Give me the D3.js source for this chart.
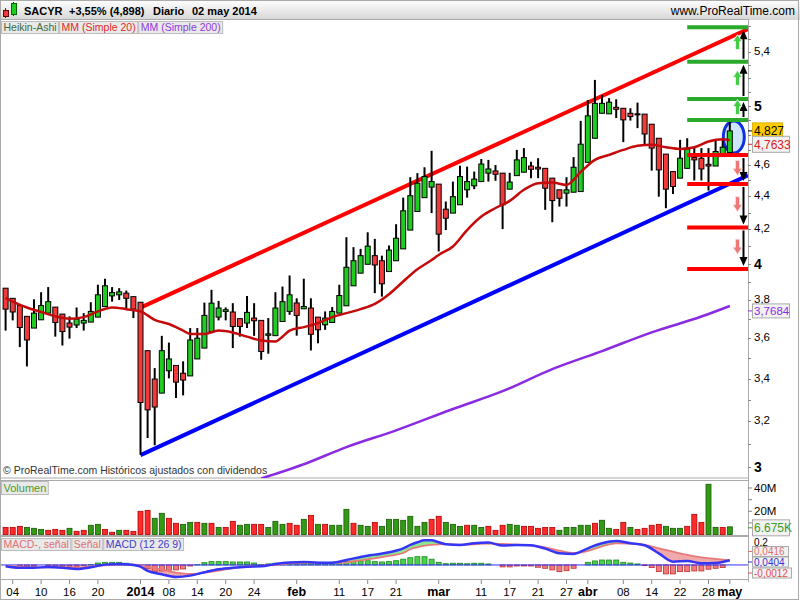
<!DOCTYPE html>
<html>
<head>
<meta charset="utf-8">
<script src="https://cdn.jsdelivr.net/npm/d3@7"></script>
<style>
body { margin: 0; background: #fff; }
svg { display: block; font-family: "Liberation Sans", Arial, sans-serif; }
</style>
</head>
<body>
<script>
// trading days shown on the chart
const dates = [
  "2013-12-03","2013-12-04","2013-12-05","2013-12-06","2013-12-09","2013-12-10","2013-12-11","2013-12-12","2013-12-13","2013-12-16",
  "2013-12-17","2013-12-18","2013-12-19","2013-12-20","2013-12-23","2013-12-24","2013-12-27","2013-12-30","2013-12-31",
  "2014-01-02","2014-01-03","2014-01-06","2014-01-07","2014-01-08","2014-01-09","2014-01-10","2014-01-13","2014-01-14","2014-01-15",
  "2014-01-16","2014-01-17","2014-01-20","2014-01-21","2014-01-22","2014-01-23","2014-01-24","2014-01-27","2014-01-28","2014-01-29",
  "2014-01-30","2014-01-31",
  "2014-02-03","2014-02-04","2014-02-05","2014-02-06","2014-02-07","2014-02-10","2014-02-11","2014-02-12","2014-02-13","2014-02-14",
  "2014-02-17","2014-02-18","2014-02-19","2014-02-20","2014-02-21","2014-02-24","2014-02-25","2014-02-26","2014-02-27","2014-02-28",
  "2014-03-03","2014-03-04","2014-03-05","2014-03-06","2014-03-07","2014-03-10","2014-03-11","2014-03-12","2014-03-13","2014-03-14",
  "2014-03-17","2014-03-18","2014-03-19","2014-03-20","2014-03-21","2014-03-24","2014-03-25","2014-03-26","2014-03-27","2014-03-28",
  "2014-03-31",
  "2014-04-01","2014-04-02","2014-04-03","2014-04-04","2014-04-07","2014-04-08","2014-04-09","2014-04-10","2014-04-11","2014-04-14",
  "2014-04-15","2014-04-16","2014-04-17","2014-04-22","2014-04-23","2014-04-24","2014-04-25","2014-04-28","2014-04-29","2014-04-30",
  "2014-05-02"
];

// Heikin-Ashi candles
const haOpen = [3.864,3.809,3.770,3.713,3.652,3.695,3.730,3.762,3.725,3.678,3.668,3.678,3.683,3.709,3.765,3.822,3.828,3.837,3.818,
  3.788,3.537,3.398,3.331,3.438,3.464,3.426,3.413,3.496,3.550,3.634,3.709,3.739,3.736,3.701,3.678,3.704,3.692,3.615,3.613,3.686,3.739,
  3.784,3.753,3.757,3.709,3.669,3.681,3.730,3.769,3.877,3.947,3.997,4.046,4.017,3.956,4.017,4.085,4.195,4.307,4.392,4.458,
  4.477,4.321,4.297,4.348,4.441,4.466,4.493,4.547,4.561,4.547,4.445,4.531,4.553,4.593,4.585,4.578,4.515,4.441,4.420,4.426,4.430,
  4.617,4.777,4.949,4.945,4.991,4.984,4.949,4.945,4.943,4.873,4.777,4.671,4.557,4.515,4.578,4.648,4.644,4.604,4.593,4.655,
  4.681];
const haHigh = [3.864,3.809,3.770,3.713,3.804,3.842,3.870,3.762,3.725,3.713,3.760,3.730,3.788,3.883,3.916,3.870,3.864,3.851,3.818,
  3.788,3.537,3.451,3.612,3.578,3.464,3.484,3.652,3.652,3.786,3.855,3.795,3.760,3.783,3.701,3.822,3.783,3.692,3.704,3.842,3.873,3.934,
  3.809,3.916,3.809,3.709,3.739,3.762,3.883,4.153,4.095,4.085,4.182,4.143,4.046,4.104,4.230,4.392,4.521,4.547,4.585,4.693,
  4.477,4.368,4.493,4.595,4.589,4.557,4.639,4.633,4.599,4.547,4.549,4.699,4.711,4.621,4.644,4.578,4.515,4.441,4.521,4.651,4.896,
  5.043,5.188,5.079,5.056,5.048,4.984,4.984,5.024,4.943,4.873,4.777,4.671,4.557,4.766,4.777,4.711,4.711,4.711,4.766,4.766,
  4.915];
const haLow = [3.639,3.692,3.555,3.459,3.652,3.695,3.730,3.608,3.563,3.598,3.652,3.639,3.683,3.709,3.765,3.791,3.800,3.757,3.704,
  3.053,3.126,3.094,3.331,3.401,3.308,3.320,3.413,3.496,3.550,3.634,3.692,3.692,3.550,3.608,3.652,3.612,3.492,3.522,3.613,3.686,3.721,
  3.613,3.753,3.538,3.575,3.643,3.681,3.730,3.769,3.877,3.947,3.997,3.837,3.818,3.956,4.017,4.085,4.195,4.307,4.392,4.297,
  4.070,4.195,4.297,4.348,4.392,4.445,4.493,4.493,4.498,4.201,4.445,4.531,4.553,4.515,4.515,4.317,4.242,4.337,4.337,4.426,4.430,
  4.617,4.777,4.949,4.945,4.916,4.751,4.898,4.846,4.733,4.563,4.398,4.327,4.415,4.515,4.578,4.500,4.500,4.436,4.593,4.655,
  4.681];
const haClose = [3.751,3.736,3.655,3.591,3.730,3.770,3.791,3.681,3.634,3.657,3.699,3.692,3.739,3.828,3.877,3.840,3.844,3.809,3.751,
  3.287,3.253,3.266,3.537,3.496,3.383,3.393,3.591,3.600,3.718,3.783,3.757,3.748,3.660,3.660,3.734,3.690,3.533,3.622,3.757,3.791,3.828,
  3.718,3.765,3.620,3.643,3.704,3.739,3.824,3.980,4.017,4.046,4.101,3.993,3.888,4.078,4.147,4.311,4.404,4.483,4.525,4.493,
  4.171,4.266,4.398,4.525,4.493,4.509,4.606,4.574,4.540,4.348,4.490,4.633,4.648,4.572,4.574,4.451,4.374,4.388,4.441,4.585,4.737,
  4.931,5.019,5.019,5.027,4.977,4.903,4.926,4.938,4.806,4.711,4.568,4.445,4.462,4.644,4.711,4.633,4.574,4.593,4.688,4.717,
  4.827];

// moving averages, sampled by trading-day number
const mm20Day = [0,1,3,5,7,9,11,13,15,17,19,21,23,25,26,28,30,32,34,36,38,39,40,42,44,46,48,50,52,54,56,58,60,61,63,65,67,69,71,
  73,75,77,79,81,83,85,87,89,91,93,95,97,99,101,102];
const mm20Val = [3.811,3.791,3.760,3.736,3.713,3.701,3.709,3.739,3.760,3.751,3.739,3.695,3.673,3.639,3.622,3.622,3.639,3.629,3.608,
  3.588,3.583,3.608,3.639,3.657,3.678,3.709,3.730,3.751,3.779,3.831,3.901,3.969,4.021,4.050,4.099,4.195,4.276,4.328,4.372,
  4.441,4.483,4.487,4.472,4.555,4.633,4.666,4.699,4.726,4.733,4.717,4.705,4.717,4.755,4.771,4.763];
const mm200Day = [36,42,48,55,63,70,77,84,91,98,102];
const mm200Val = [2.952,3.012,3.086,3.160,3.257,3.340,3.446,3.535,3.630,3.712,3.768];

// channel drawn on the chart: [day, price] anchors
const upperChannel = [[19, 3.759], [102, 5.509]];
const lowerChannel = [[19, 3.051], [102, 4.479]];

// target levels on the right
const greenLevels = [5.589, 5.323, 5.050, 4.902];
const redLevels = [4.665, 4.478, 4.211, 3.970];

// volume in millions, direction of the real close
const volume = [6.2,6.2,7.1,6.2,5.4,4.5,3.7,4.5,3.7,5.4,2.8,3.7,8.0,8.8,4.5,2.0,3.7,3.7,2.8,20.0,20.8,14.0,18.3,14.0,9.7,8.8,
  10.5,10.5,9.7,9.7,6.2,6.2,11.4,8.0,8.8,8.8,8.8,6.2,11.4,8.8,9.7,8.0,13.1,16.5,8.8,8.8,8.0,8.0,21.7,9.7,8.0,7.1,10.5,7.1,13.1,13.1,
  12.3,15.7,7.1,10.5,13.1,15.7,10.5,8.8,7.1,8.0,8.0,6.2,7.1,3.7,8.0,8.8,8.0,7.1,7.1,5.4,6.2,6.2,3.7,6.2,6.2,8.0,8.0,9.7,12.3,
  5.4,4.5,10.5,6.2,4.5,5.4,8.0,8.8,7.1,5.4,5.4,7.1,17.4,10.5,43.2,6.2,6.2,6.675];
const volDir = ["d","d","d","u","u","u","d","d","d","u","d","d","u","u","d","d","u","d","d","d","d","u","u","d","d","u","u","d",
  "u","d","u","d","d","u","u","d","d","u","u","u","d","d","u","d","u","d","u","u","u","d","u","u","d","u","u","u",
  "u","u","u","u","d","d","u","u","u","d","u","u","d","d","d","u","u","d","d","d","d","d","u","u","u","u","u","d","u","u",
  "d","d","u","d","d","d","d","u","u","u","d","d","d","u","u","d","u"];

// MACD (12 26 9)
const macdDay = [0,2,4,6,8,10,12,14,16,18,19,20,22,24,26,28,30,32,34,36,38,40,42,44,46,48,50,52,54,56,57,58,59,60,61,62,64,66,
  68,70,72,74,76,78,80,81,82,84,86,88,90,92,94,96,98,100,101,102];
const macdVal = [-0.0116,-0.0246,-0.0246,-0.0174,-0.0232,-0.0348,-0.0203,0.0029,0.0087,0.0,-0.0145,-0.0522,-0.0812,-0.1043,
  -0.0928,-0.0638,-0.0377,-0.0232,-0.0145,-0.0116,0.0087,0.0217,0.0261,0.0203,0.0203,0.0435,0.0696,0.0899,0.1101,0.1449,0.1739,
  0.1971,0.2145,0.2145,0.1971,0.1797,0.1739,0.1884,0.1942,0.1681,0.1739,0.1710,0.1420,0.1014,0.0957,0.1159,0.1449,0.1884,0.2087,
  0.1884,0.1710,0.1014,0.0290,0.0348,0.0145,0.0174,0.0261,0.0404];
const signalVal = [-0.0058,-0.0145,-0.0203,-0.0203,-0.0203,-0.0217,-0.0116,-0.0029,0.0058,0.0029,-0.0058,-0.0145,-0.0406,-0.0667,
  -0.0783,-0.0667,-0.0493,-0.0290,-0.0116,-0.0058,0.0,0.0130,0.0188,0.0203,0.0174,0.0232,0.0406,0.0580,0.0783,0.1043,0.1362,
  0.1536,0.1681,0.1739,0.1797,0.1826,0.1768,0.1797,0.1855,0.1826,0.1768,0.1681,0.1536,0.1246,0.1043,0.1072,0.1217,0.1623,0.1884,
  0.1855,0.1739,0.1449,0.1159,0.0870,0.0667,0.0522,0.0464,0.0416];
const histVal = [0,0,-0.011,-0.015,-0.011,-0.002,-0.004,-0.015,-0.015,-0.015,-0.015,-0.004,0.003,0.017,0.023,0.023,0.023,0.015,0.006,
  -0.009,-0.029,-0.055,-0.052,-0.046,-0.043,-0.035,-0.009,0.003,0.020,0.029,0.029,0.029,0.026,0.026,0.026,0.017,0.003,0.009,0.015,
  0.017,0.023,0.023,0.023,0.020,0.015,0.017,0.023,0.023,0.029,0.032,0.035,0.037,0.029,0.026,0.029,0.037,
  0.050,0.063,0.072,0.072,0.050,0.023,0.011,0.015,0.015,0.011,0.015,0.015,0.009,0.001,-0.017,-0.017,-0.009,-0.009,-0.009,-0.020,
  -0.029,-0.043,-0.058,-0.050,-0.029,-0.002,0.023,0.035,0.043,0.043,0.043,0.023,0.017,0.009,-0.006,-0.023,-0.058,-0.078,-0.078,
  -0.058,-0.058,-0.052,-0.052,-0.037,-0.029,-0.023,-0.0012];

// axis labels
const xTickDates = ["2013-12-04","2013-12-10","2013-12-16","2013-12-20","2014-01-02","2014-01-08","2014-01-14","2014-01-20",
  "2014-01-24","2014-02-03","2014-02-11","2014-02-17","2014-02-21","2014-03-03","2014-03-11","2014-03-17","2014-03-21",
  "2014-03-27","2014-04-01","2014-04-08","2014-04-14","2014-04-22","2014-04-28","2014-05-02"];
const xTickLabels = ["04","10","16","20","2014","08","14","20","24","feb","11","17","21","mar","11","17","21","27","abr",
  "08","14","22","28","may"];
const priceTicks = [5.4, 5, 4.6, 4.4, 4.2, 4, 3.8, 3.6, 3.4, 3.2, 3];
const volTicks = [40, 20];

// ---------------------------------------------------------------
const W = 800, H = 600;
const plotR = 748;
const P = { top: 20, bottom: 478 };      // price panel
const V = { top: 481, bottom: 535 };     // volume panel
const M = { top: 537, bottom: 579 };     // macd panel

const GREEN = "#1fcc1f", RED = "#f23a3a";
const comma = v => String(v).replace(".", ",");

const svg = d3.select("body").append("svg").attr("width", W).attr("height", H);
const defs = svg.append("defs");

const x = d3.scaleLinear().domain([0, dates.length - 1]).range([5.6, 729.8]);
const yP = d3.scaleLog().domain([2.954, 5.647]).range([P.bottom, P.top]);
const yV = d3.scaleLinear().domain([0, 46]).range([534.6, V.top]);
const yM = d3.scaleLinear().domain([-0.122, 0.243]).range([M.bottom, M.top]);
const dayOf = d => dates.indexOf(d);

// header
const hg = defs.append("linearGradient").attr("id", "hdr").attr("x1", 0).attr("x2", 0).attr("y1", 0).attr("y2", 1);
hg.append("stop").attr("offset", "0%").attr("stop-color", "#ffffff");
hg.append("stop").attr("offset", "100%").attr("stop-color", "#d6d6d6");
svg.append("rect").attr("width", W).attr("height", 20).attr("fill", "url(#hdr)");
svg.append("line").attr("x1", 5.5).attr("x2", 5.5).attr("y1", 8).attr("y2", 18).attr("stroke", "#333");
svg.append("rect").attr("x", 3.5).attr("y", 10.5).attr("width", 5).attr("height", 6).attr("fill", RED).attr("stroke", "#600");
svg.append("line").attr("x1", 13.5).attr("x2", 13.5).attr("y1", 2).attr("y2", 16).attr("stroke", "#333");
svg.append("rect").attr("x", 11.5).attr("y", 3.5).attr("width", 5).attr("height", 11).attr("fill", GREEN).attr("stroke", "#060");

const head = [["SACYR", 24], ["+3,55% (4,898)", 69], ["Diario", 153], ["02 may 2014", 192]];
svg.selectAll("text.hd").data(head).join("text")
  .attr("x", d => d[1]).attr("y", 15).attr("font-size", 11).attr("font-weight", "bold").text(d => d[0]);
svg.append("text").attr("x", 795).attr("y", 14.5).attr("text-anchor", "end").attr("font-size", 12).text("www.ProRealTime.com");

// panel frames
svg.append("rect").attr("x", 0.5).attr("y", 19.5).attr("width", plotR).attr("height", P.bottom - 19.5)
  .attr("fill", "none").attr("stroke", "#aaa");
svg.append("rect").attr("x", 0.5).attr("y", 480.5).attr("width", plotR).attr("height", 55)
  .attr("fill", "none").attr("stroke", "#aaa");
svg.append("rect").attr("x", 0.5).attr("y", 536.5).attr("width", plotR).attr("height", 43)
  .attr("fill", "none").attr("stroke", "#aaa");
svg.append("line").attr("x1", plotR + 0.5).attr("x2", plotR + 0.5).attr("y1", 20).attr("y2", 582).attr("stroke", "#aaa");
svg.append("rect").attr("x", 0.5).attr("y", 0.5).attr("width", W - 2).attr("height", H - 1)
  .attr("fill", "none").attr("stroke", "#aaa");

// clip paths
defs.append("clipPath").attr("id", "clipP").append("rect").attr("x", 1).attr("y", P.top).attr("width", plotR - 1).attr("height", P.bottom - P.top);
defs.append("clipPath").attr("id", "clipM").append("rect").attr("x", 1).attr("y", M.top).attr("width", plotR - 1).attr("height", M.bottom - M.top);

// ---------------- price panel
const gP = svg.append("g").attr("clip-path", "url(#clipP)");

const mm200Line = d3.line().x((d, k) => x(mm200Day[k])).y(d => yP(d)).curve(d3.curveMonotoneX);
gP.append("path").attr("d", mm200Line(mm200Val)).attr("fill", "none").attr("stroke", "#8a2be2").attr("stroke-width", 2.5);

function channel(anchors, color) {
  const [a, b] = anchors;
  const x1 = x(a[0]), y1 = yP(a[1]), x2 = x(b[0]), y2 = yP(b[1]);
  const slope = (y2 - y1) / (x2 - x1);
  gP.append("line").attr("x1", x1).attr("y1", y1).attr("x2", plotR).attr("y2", y1 + slope * (plotR - x1))
    .attr("stroke", color).attr("stroke-width", 4);
}
channel(upperChannel, "#ff0000");
channel(lowerChannel, "#0000ff");

// ellipse around last candle
const lastDay = dates.length - 1;
gP.append("ellipse").attr("cx", x(lastDay) + 4).attr("cy", yP(4.786)).attr("rx", 10.5).attr("ry", 16)
  .attr("fill", "#cfe6fa").attr("stroke", "#1030e0").attr("stroke-width", 3);

const days = d3.range(dates.length);
gP.selectAll("line.wick").data(days).join("line")
  .attr("x1", i => x(i)).attr("x2", i => x(i))
  .attr("y1", i => yP(haHigh[i])).attr("y2", i => yP(haLow[i]))
  .attr("stroke", "#000").attr("stroke-width", 2);
gP.selectAll("rect.body").data(days).join("rect")
  .attr("x", i => x(i) - 2.5).attr("width", 5)
  .attr("y", i => yP(Math.max(haOpen[i], haClose[i])))
  .attr("height", i => Math.max(1, Math.abs(yP(haOpen[i]) - yP(haClose[i]))))
  .attr("fill", i => haClose[i] >= haOpen[i] ? GREEN : RED)
  .attr("stroke", "#000").attr("stroke-width", 1);

const mm20Line = d3.line().x((d, k) => x(mm20Day[k])).y(d => yP(d)).curve(d3.curveMonotoneX);
gP.append("path").attr("d", mm20Line(mm20Val)).attr("fill", "none").attr("stroke", "#c40a0a").attr("stroke-width", 2.5);

// target levels and arrows
const levelFrom = x(96);
gP.selectAll("line.gl").data(greenLevels).join("line")
  .attr("x1", levelFrom).attr("x2", plotR).attr("y1", d => yP(d)).attr("y2", d => yP(d))
  .attr("stroke", "#2aaa2a").attr("stroke-width", 4);
gP.selectAll("line.rl").data(redLevels).join("line")
  .attr("x1", levelFrom).attr("x2", plotR).attr("y1", d => yP(d)).attr("y2", d => yP(d))
  .attr("stroke", "#ff0000").attr("stroke-width", 4);

const arrowX = 743.5, blockX = 737.5;
function blackArrow(from, to) {
  const ya = yP(from), yb = yP(to), dir = yb < ya ? 1 : -1;
  gP.append("line").attr("x1", arrowX).attr("x2", arrowX).attr("y1", ya - dir * 3).attr("y2", yb + dir * 6)
    .attr("stroke", "#000").attr("stroke-width", 2);
  gP.append("path").attr("d", `M${arrowX - 4},${yb + dir * 12}L${arrowX + 4},${yb + dir * 12}L${arrowX},${yb + dir * 3}Z`)
    .attr("fill", "#000");
}
function blockArrow(a, b, up) {
  const yc = (yP(a) + yP(b)) / 2 - 2;
  const s = up ? -1 : 1;
  const pts = [[0, s * 8], [-4.5, s * 1], [-2, s * 1], [-2, -s * 7], [2, -s * 7], [2, s * 1], [4.5, s * 1]];
  gP.append("path").attr("d", "M" + pts.map(p => `${blockX + p[0]},${yc + p[1]}`).join("L") + "Z")
    .attr("fill", up ? "#44cc44" : "#ee7777").attr("stroke", up ? "#e8ffe8" : "#ffdede").attr("stroke-width", 0.8);
}
for (let k = 0; k < 3; k++) {
  blackArrow(greenLevels[k + 1], greenLevels[k]);
  blockArrow(greenLevels[k + 1], greenLevels[k], true);
  blackArrow(redLevels[k], redLevels[k + 1]);
  blockArrow(redLevels[k], redLevels[k + 1], false);
}

// legend boxes sized to their text
function legendRow(items, y, h, fs) {
  let xx = 1.5;
  items.forEach(([txt, col]) => {
    const box = svg.append("rect").attr("x", xx).attr("y", y).attr("height", h)
      .attr("fill", "#e9e9e9").attr("stroke", "#bbb");
    const t = svg.append("text").attr("x", xx + 2).attr("y", y + h - 3).attr("font-size", fs).attr("fill", col).text(txt);
    const w = t.node().getComputedTextLength() + 4;
    box.attr("width", w);
    xx += w + 1;
  });
}
legendRow([["Heikin-Ashi", "#3d6b3d"], ["MM (Simple 20)", "#e02828"], ["MM (Simple 200)", "#9038e0"]], 21.5, 12, 10.5);
svg.append("text").attr("x", 3).attr("y", 474).attr("font-size", 10.5).attr("fill", "#333")
  .text("© ProRealTime.com  Históricos ajustados con dividendos");

// price axis
const minor = d3.range(3.0, 5.65, 0.1);
svg.selectAll("line.pt").data(minor).join("line")
  .attr("x1", plotR).attr("x2", plotR + 3).attr("y1", d => Math.round(yP(d)) + 0.5).attr("y2", d => Math.round(yP(d)) + 0.5)
  .attr("stroke", "#888");
svg.selectAll("text.pl").data(priceTicks).join("text")
  .attr("x", 754).attr("y", d => yP(d) + (Number.isInteger(d) ? 5 : 3))
  .attr("font-size", d => Number.isInteger(d) ? 14 : 11.5)
  .attr("font-weight", d => Number.isInteger(d) ? "bold" : "normal")
  .text(d => comma(d));

function valueBox(yc, txt, col, bg, w, stroke, h = 16, fs = 12) {
  svg.append("line").attr("x1", plotR).attr("x2", 752).attr("y1", yc).attr("y2", yc).attr("stroke", col);
  svg.append("rect").attr("x", 752.5).attr("y", yc - h / 2).attr("width", w).attr("height", h)
    .attr("fill", bg).attr("stroke", stroke);
  svg.append("text").attr("x", 754).attr("y", yc + fs * 0.37).attr("font-size", fs).attr("fill", col).text(txt);
}
valueBox(yP(4.827), "4,827", "#000", "#ffcc00", 30, "#e0b000");
valueBox(yP(4.7633) + 4, "4,7633", "#d82020", "#f2f2f2", 37, "#aaa");
valueBox(yP(3.7684) + 5, "3,7684", "#8a2be2", "#f2f2f2", 37, "#aaa", 14, 11.5);

// ---------------- volume panel
legendRow([["Volumen", "#4a9a2a"]], 481.5, 13, 11);
svg.selectAll("rect.vol").data(days).join("rect")
  .attr("x", i => x(i) - 2.5).attr("width", 5)
  .attr("y", i => yV(volume[i])).attr("height", i => yV(0) - yV(volume[i]))
  .attr("fill", i => volDir[i] === "u" ? "#349a16" : "#ff2a2a")
  .attr("stroke", i => volDir[i] === "u" ? "#145a00" : "#b00000").attr("stroke-width", 0.8);
svg.selectAll("line.vt").data([10, 20, 30, 40]).join("line")
  .attr("x1", plotR).attr("x2", plotR + 4).attr("y1", d => yV(d)).attr("y2", d => yV(d)).attr("stroke", "#888");
svg.selectAll("text.vl").data(volTicks).join("text")
  .attr("x", 754).attr("y", d => yV(d) + 4).attr("font-size", 11.5).text(d => d + "M");
valueBox(yV(6.675) + 1, "6.675K", "#3a9a2a", "#f2f2f2", 37, "#aaa");

// ---------------- macd panel
const gM = svg.append("g").attr("clip-path", "url(#clipM)");
const pts = macdDay.map((d, k) => ({ i: d, m: macdVal[k], s: signalVal[k] }));
const cx = p => x(p.i);
defs.append("clipPath").attr("id", "macdAbove").append("path")
  .attr("d", d3.area().x(cx).y0(M.top).y1(p => yM(p.m)).curve(d3.curveMonotoneX)(pts));
defs.append("clipPath").attr("id", "macdBelow").append("path")
  .attr("d", d3.area().x(cx).y0(M.bottom).y1(p => yM(p.m)).curve(d3.curveMonotoneX)(pts));
// macd above signal -> green, below -> pink
gM.append("path").attr("d", d3.area().x(cx).y0(M.top).y1(p => yM(p.s)).curve(d3.curveMonotoneX)(pts))
  .attr("clip-path", "url(#macdBelow)").attr("fill", "#8fe48f");
gM.append("path").attr("d", d3.area().x(cx).y0(M.bottom).y1(p => yM(p.s)).curve(d3.curveMonotoneX)(pts))
  .attr("clip-path", "url(#macdAbove)").attr("fill", "#f2a9a9");

gM.selectAll("rect.h").data(days.filter(i => Math.abs(histVal[i]) > 0.002)).join("rect")
  .attr("x", i => x(i) - 2.5).attr("width", 5)
  .attr("y", i => Math.min(yM(0), yM(histVal[i]))).attr("height", i => Math.abs(yM(histVal[i]) - yM(0)))
  .attr("fill", i => histVal[i] > 0 ? "#4ccf4c" : "#f07c7c")
  .attr("stroke", i => histVal[i] > 0 ? "#1a8a1a" : "#c03030").attr("stroke-width", 0.8);
gM.append("line").attr("x1", 0).attr("x2", plotR).attr("y1", yM(0)).attr("y2", yM(0)).attr("stroke", "#3030ff").attr("stroke-width", 1);
gM.append("path").attr("d", d3.line().x(cx).y(p => yM(p.s)).curve(d3.curveMonotoneX)(pts))
  .attr("fill", "none").attr("stroke", "#e77a7a").attr("stroke-width", 1.8);
gM.append("path").attr("d", d3.line().x(cx).y(p => yM(p.m)).curve(d3.curveMonotoneX)(pts))
  .attr("fill", "none").attr("stroke", "#3535f5").attr("stroke-width", 2.5);

legendRow([["MACD-, señal", "#e07070"], ["Señal", "#e07070"], ["MACD (12 26 9)", "#4040c8"]], 538.5, 12, 10.5);
svg.append("text").attr("x", 754).attr("y", 545.5).attr("font-size", 10).text("0,2");
valueBox(551.5, "0,0416", "#e07070", "#f2f2f2", 36, "#aaa", 10, 10);
valueBox(562, "0,0404", "#3333cc", "#f2f2f2", 36, "#aaa", 10, 10);
valueBox(573, "-0,0012", "#e05050", "#f2f2f2", 39, "#aaa", 10, 10);

// ---------------- date axis
const xt = xTickDates.map((d, k) => ({ i: dayOf(d), label: xTickLabels[k] }));
const bold = s => /[a-z]/.test(s) || s.length === 4;
svg.selectAll("line.xt").data(xt).join("line")
  .attr("x1", d => x(d.i)).attr("x2", d => x(d.i)).attr("y1", 580).attr("y2", 584).attr("stroke", "#888");
svg.selectAll("text.xl").data(xt).join("text")
  .attr("x", d => x(d.i)).attr("y", 596).attr("text-anchor", "middle")
  .attr("font-size", d => bold(d.label) ? 12.5 : 11.5)
  .attr("font-weight", d => bold(d.label) ? "bold" : "normal")
  .text(d => d.label);
</script>
</body>
</html>
